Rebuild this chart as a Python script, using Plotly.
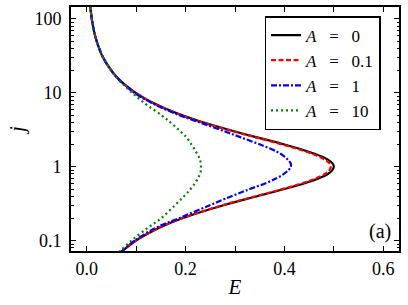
import plotly.graph_objects as go

# j values (shared grid) and E(j) for each A
j_vals = [0.07, 0.075, 0.1, 0.15, 0.2, 0.3, 0.4, 0.5, 0.6, 0.7, 0.8, 0.9, 1.0, 1.1,
          1.25, 1.4, 1.6, 2.0, 2.5, 3.0, 4.0, 5.0, 7.0, 10, 15, 20, 30, 50, 80, 150]

E_A0 = [0.0697, 0.0746, 0.099, 0.147, 0.192, 0.275, 0.345, 0.400, 0.441, 0.470, 0.488,
        0.497, 0.500, 0.498, 0.488, 0.473, 0.449, 0.400, 0.345, 0.300, 0.235, 0.192,
        0.140, 0.099, 0.066, 0.050, 0.033, 0.020, 0.0125, 0.0067]
E_A01 = [0.0696, 0.0745, 0.0988, 0.146, 0.191, 0.273, 0.342, 0.396, 0.436, 0.464, 0.482,
         0.491, 0.494, 0.492, 0.482, 0.467, 0.444, 0.396, 0.342, 0.298, 0.233, 0.191,
         0.139, 0.0988, 0.066, 0.050, 0.033, 0.020, 0.0125, 0.0067]
E_A1 = [0.0688, 0.0735, 0.0965, 0.140, 0.185, 0.248, 0.293, 0.330, 0.362, 0.384, 0.399,
        0.408, 0.413, 0.413, 0.407, 0.399, 0.385, 0.351, 0.312, 0.280, 0.228, 0.187,
        0.137, 0.0965, 0.0653, 0.0495, 0.033, 0.020, 0.0125, 0.0067]
E_A10 = [0.0655, 0.070, 0.090, 0.124, 0.150, 0.178, 0.197, 0.210, 0.219, 0.225, 0.229,
         0.231, 0.231, 0.231, 0.229, 0.226, 0.221, 0.212, 0.202, 0.190, 0.169, 0.151,
         0.120, 0.092, 0.065, 0.0495, 0.033, 0.020, 0.0125, 0.0067]

SP = "&nbsp;&nbsp;&nbsp;"
series_names = ["<i>A</i>" + SP + "=" + SP + "0", "<i>A</i>" + SP + "=" + SP + "0.1",
                "<i>A</i>" + SP + "=" + SP + "1", "<i>A</i>" + SP + "=" + SP + "10"]

x_tickvals = [0.0, 0.1, 0.2, 0.3, 0.4, 0.5, 0.6]
x_ticktext = ["0.0", "", "0.2", "", "0.4", "", "0.6"]
y_tickvals = [0.1, 1, 10, 100]
y_ticktext = ["0.1", "1", "10", "100"]
y_minor = [m * 10 ** d for d in (-2, -1, 0, 1, 2) for m in range(2, 10)]

FONT = "Liberation Serif"

fig = go.Figure()
styles = [
    dict(color="black", dash="solid"),
    dict(color="#ff0000", dash="5px,2.5px"),
    dict(color="#0000ff", dash="6px,2px,2px,2px"),
    dict(color="#008000", dash="2px,3px"),
]
for name, E, st in zip(series_names, [E_A0, E_A01, E_A1, E_A10], styles):
    fig.add_trace(go.Scatter(x=E, y=j_vals, mode="lines", name=name,
                             line=dict(color=st["color"], dash=st["dash"], width=2.2,
                                       shape="spline", smoothing=1.0)))

fig.update_layout(
    width=408, height=305,
    margin=dict(l=71, r=9, t=7, b=54),
    paper_bgcolor="white", plot_bgcolor="white",
    font=dict(family=FONT, size=18, color="black"),
    showlegend=True,
    legend=dict(x=0.59, xanchor="left", y=0.963, yanchor="top",
                bgcolor="white", bordercolor="black", borderwidth=1.5,
                font=dict(family=FONT, size=17), tracegroupgap=0, itemwidth=30),
)
fig.update_xaxes(
    range=[-0.032, 0.632], tickvals=x_tickvals, ticktext=x_ticktext,
    ticks="inside", ticklen=5, tickwidth=1.3, tickcolor="black",
    showline=True, linewidth=2, linecolor="black", mirror="allticks",
    showgrid=False, zeroline=False, automargin=False,
    title=dict(text="<i>E</i>", font=dict(family=FONT, size=21), standoff=2),
    tickfont=dict(family=FONT, size=18),
)
fig.update_yaxes(
    type="log", range=[-1.139, 2.162], tickvals=y_tickvals, ticktext=y_ticktext,
    ticks="inside", ticklen=5, tickwidth=1.3, tickcolor="black",
    showline=True, linewidth=2, linecolor="black", mirror="allticks",
    showgrid=False, zeroline=False, automargin=False, ticklabelstandoff=4,
    minor=dict(tickvals=y_minor, ticks="inside", ticklen=2.5, tickwidth=1,
               tickcolor="black", showgrid=False),
    title=dict(text="<i>j</i>", font=dict(family=FONT, size=21), standoff=4),
    tickfont=dict(family=FONT, size=18),
)
fig.add_annotation(text="(a)", xref="paper", yref="paper", x=0.982, y=0.078,
                   xanchor="right", yanchor="middle", showarrow=False,
                   font=dict(family=FONT, size=20))

fig.write_html("out.html", config={"displayModeBar": False},
               post_script="document.body.style.margin='0';")
